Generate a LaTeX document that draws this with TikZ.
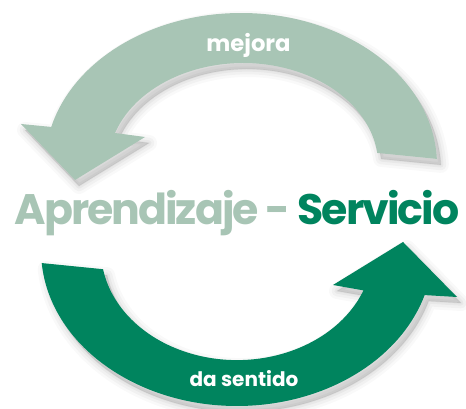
\documentclass[tikz,border=0pt]{standalone}
\usepackage{fontspec}
\setmainfont{Poppins}[BoldFont={* Bold}]
\definecolor{lightg}{RGB}{168,197,181}
\definecolor{darkg}{RGB}{0,132,94}
\def\topshape{(241,244) ++(2.3:196 and 152) arc[start angle=2.3, end angle=165.5, x radius=196, y radius=152] -- (21,285) -- (75,229) -- (145,272) -- (115,276) arc[start angle=161.7, end angle=6.8, x radius=135, y radius=102] -- cycle}
\def\botshape{(237,159) ++(184.8:196 and 156) arc[start angle=184.8, end angle=343.2, x radius=196, y radius=156] -- (457,112) -- (403,167) -- (333,124) -- (363.5,118.6) arc[start angle=338.5, end angle=190, x radius=136, y radius=110] -- cycle}
\tikzset{shadowpart/.style={black, line join=round}}
\begin{document}
\begin{tikzpicture}[x=0.75pt,y=0.75pt]
\useasboundingbox (0,0) rectangle (466,409);
% shadows
\begin{scope}[shift={(4,-6)}]
\foreach \w/\o in {12/0.025,8/0.03,4/0.035,1/0.04}{
  \filldraw[shadowpart, opacity=\o, line width=\w pt] \topshape;
  \filldraw[shadowpart, opacity=\o, line width=\w pt] \botshape;
}
\end{scope}
\fill[lightg] \topshape;
\fill[darkg] \botshape;
\node[text=white, font=\bfseries\fontsize{17}{20}\selectfont, anchor=base] (mej) at (248.5,357) {mejora};
\node[text=white, font=\bfseries\fontsize{15}{18}\selectfont, anchor=base] (das) at (244,22) {da sentido};
\node[font=\bfseries\fontsize{32}{38}\selectfont\addfontfeatures{LetterSpace=-4.7}, anchor=base, inner sep=0pt] (title) at (237,184) {\textcolor{lightg}{Aprendizaje -} \textcolor{darkg}{Servicio}};
\end{tikzpicture}
\end{document}
